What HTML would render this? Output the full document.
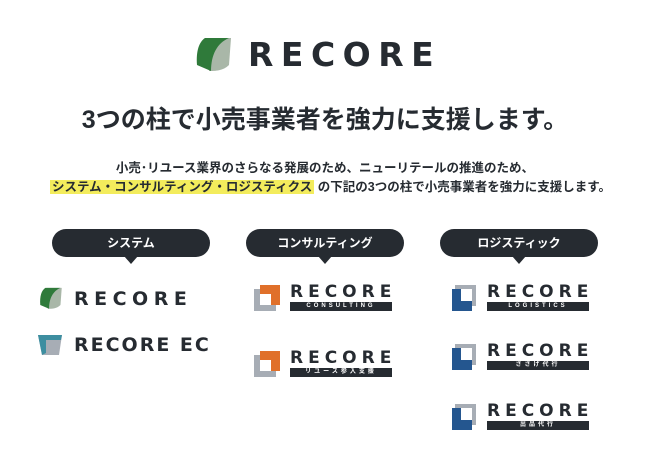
<!DOCTYPE html>
<html><head><meta charset="utf-8"><style>
body{margin:0;width:650px;height:458px;background:#fff;position:relative;overflow:hidden;font-family:"Liberation Sans","Noto Sans CJK JP",sans-serif;color:#262b31}
.a{position:absolute}
.rc{position:absolute;font-family:"DejaVu Sans","Liberation Sans",sans-serif;font-weight:bold;color:#262b31;white-space:nowrap;line-height:1}
.pill{position:absolute;top:229px;width:158px;height:28px;border-radius:14px;background:#262b31;color:#fff;font-weight:bold;font-size:12px;text-align:center;line-height:28px}
.pill:after{content:"";position:absolute;left:72px;top:27px;border-left:7px solid transparent;border-right:7px solid transparent;border-top:8px solid #262b31}
.bar{position:absolute;background:#262b31;color:#fff;font-size:6px;font-weight:bold;text-align:center;line-height:9px;height:9px;width:102px;letter-spacing:3px}
</style></head><body>
<svg class="a" style="left:195px;top:35px" width="38" height="38" viewBox="0 0 38 38">
<path d="M12 3 L36 3 L34 30 C28 36 20 36 14 36 Z" fill="#a9b7a8"/>
<path d="M10 3 L34 3 C22 8 16 20 16 36 L2 30 C1 16 4 7 10 3 Z" fill="#2f7a3a"/>
</svg>
<div class="rc" style="left:248px;top:38px;font-size:33px;letter-spacing:7.5px">RECORE</div>
<div class="a" style="left:0;width:650px;top:100px;text-align:center;font-size:25px;font-weight:bold">3つの柱で小売事業者を強力に支援します。</div>
<div class="a" style="left:0;width:650px;top:157px;text-align:center;font-size:12.5px;font-weight:bold">小売･リユース業界のさらなる発展のため、ニューリテールの推進のため、</div>
<div class="a" style="left:50px;top:179px;font-size:12.5px;font-weight:bold;white-space:nowrap;line-height:17px"><span style="background:#f3ec5c;padding:0 2px">システム・コンサルティング・ロジスティクス</span> の下記の3つの柱で小売事業者を強力に支援します。</div>

<div class="pill" style="left:52px">システム</div>
<div class="pill" style="left:246px">コンサルティング</div>
<div class="pill" style="left:440px">ロジスティック</div>

<svg class="a" style="left:39px;top:286px" width="24" height="24" viewBox="0 0 38 38">
<path d="M12 3 L36 3 L34 30 C28 36 20 36 14 36 Z" fill="#a9b7a8"/>
<path d="M10 3 L34 3 C22 8 16 20 16 36 L2 30 C1 16 4 7 10 3 Z" fill="#2f7a3a"/></svg>
<div class="rc" style="left:74px;top:290px;font-size:19px;letter-spacing:5.5px">RECORE</div>
<svg class="a" style="left:37px;top:333px" width="26" height="23" viewBox="0 0 26 23">
<path d="M1 2 L25 2 L22 22 L5 22 Z" fill="#a7adb5"/>
<path d="M1 2 L25 2 L24 7 L9 7 L9 20 L5 22 Z" fill="#3d8ea0"/></svg>
<div class="rc" style="left:74px;top:336px;font-size:19px;letter-spacing:2px">RECORE EC</div>

<svg class="a" style="left:254px;top:285px" width="26" height="26" viewBox="0 0 26 26">
<rect x="0" y="4" width="22" height="22" fill="#a7adb5"/><rect x="6" y="0" width="20" height="20" fill="#e0702a"/><rect x="6" y="9" width="11" height="11" fill="#fff"/></svg>
<div class="rc" style="left:290px;top:284px;font-size:17px;letter-spacing:5px">RECORE</div>
<div class="bar" style="left:290px;top:302px">CONSULTING</div>
<svg class="a" style="left:254px;top:351px" width="26" height="26" viewBox="0 0 26 26">
<rect x="0" y="4" width="22" height="22" fill="#a7adb5"/><rect x="6" y="0" width="20" height="20" fill="#e0702a"/><rect x="6" y="9" width="11" height="11" fill="#fff"/></svg>
<div class="rc" style="left:290px;top:350px;font-size:17px;letter-spacing:5px">RECORE</div>
<div class="bar" style="left:290px;top:368px">リユース参入支援</div>

<svg class="a" style="left:452px;top:285px" width="24" height="26" viewBox="0 0 24 26">
<rect x="3" y="0" width="21" height="21" fill="#a7adb5"/><rect x="0" y="4" width="20" height="22" fill="#24568f"/><rect x="9" y="4" width="11" height="12" fill="#fff"/></svg>
<div class="rc" style="left:487px;top:284px;font-size:17px;letter-spacing:5px">RECORE</div>
<div class="bar" style="left:487px;top:302px">LOGISTICS</div>
<svg class="a" style="left:452px;top:344px" width="24" height="26" viewBox="0 0 24 26">
<rect x="3" y="0" width="21" height="21" fill="#a7adb5"/><rect x="0" y="4" width="20" height="22" fill="#24568f"/><rect x="9" y="4" width="11" height="12" fill="#fff"/></svg>
<div class="rc" style="left:487px;top:343px;font-size:17px;letter-spacing:5px">RECORE</div>
<div class="bar" style="left:487px;top:361px">ささげ代行</div>
<svg class="a" style="left:452px;top:404px" width="24" height="26" viewBox="0 0 24 26">
<rect x="3" y="0" width="21" height="21" fill="#a7adb5"/><rect x="0" y="4" width="20" height="22" fill="#24568f"/><rect x="9" y="4" width="11" height="12" fill="#fff"/></svg>
<div class="rc" style="left:487px;top:403px;font-size:17px;letter-spacing:5px">RECORE</div>
<div class="bar" style="left:487px;top:421px">出品代行</div>
</body></html>
